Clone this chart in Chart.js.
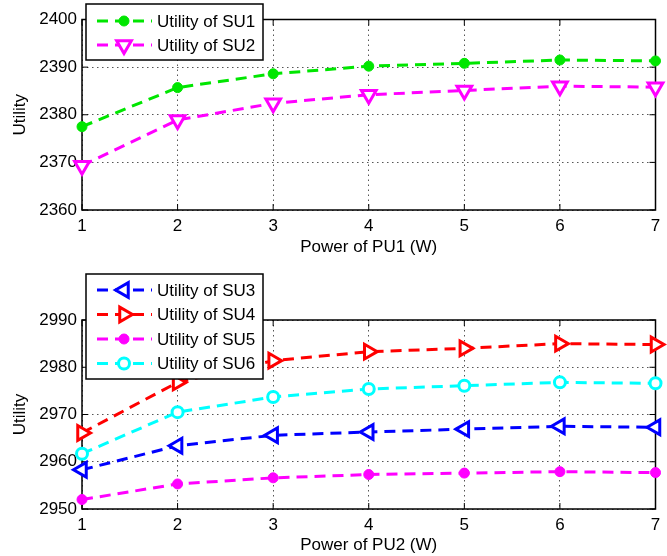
<!DOCTYPE html>
<html>
<head>
<meta charset="utf-8">
<script src="https://cdn.jsdelivr.net/npm/chart.js@4/dist/chart.umd.min.js"></script>
<style>
  body { margin: 0; background: #fff; width: 667px; height: 556px; overflow: hidden; }
  canvas { position: absolute; left: 0; }
  #topChart { top: 0; }
  #bottomChart { top: 270px; }
</style>
</head>
<body>
<canvas id="topChart" width="667" height="270"></canvas>
<canvas id="bottomChart" width="667" height="286"></canvas>
<script>
// x values (W) shared by both panels
const powerLevels = ['1', '2', '3', '4', '5', '6', '7'];

// upper panel: power of PU1
const su1 = [2377.5, 2385.7, 2388.6, 2390.2, 2390.8, 2391.5, 2391.3];
const su2 = [2369.3, 2378.9, 2382.4, 2384.2, 2385.1, 2386.0, 2385.8];
const topTicks = [2360, 2370, 2380, 2390, 2400];

// lower panel: power of PU2
const su3 = [2958.3, 2963.4, 2965.6, 2966.3, 2966.9, 2967.5, 2967.3];
const su4 = [2966.1, 2976.8, 2981.4, 2983.3, 2984.0, 2985.0, 2984.8];
const su5 = [2952.0, 2955.3, 2956.6, 2957.3, 2957.6, 2957.9, 2957.7];
const su6 = [2961.7, 2970.5, 2973.7, 2975.4, 2976.1, 2976.8, 2976.6];
const bottomTicks = [2950, 2960, 2970, 2980, 2990];

const FONT = 'Liberation Sans, Arial, sans-serif';
const FSIZE = 17;

function series(label, data, color, style, rotation, radius, filled) {
  return {
    label: label,
    data: data,
    borderColor: color,
    borderWidth: 3,
    borderDash: [11, 7],
    fill: false,
    tension: 0,
    clip: false,
    pointStyle: style,
    pointRotation: rotation,
    pointRadius: radius,
    pointHoverRadius: radius,
    pointBackgroundColor: filled ? color : '#fff',
    pointBorderColor: color,
    pointBorderWidth: filled ? 1 : 3
  };
}

function drawMarker(ctx, ds, x, y) {
  ctx.save();
  ctx.setLineDash([]);
  ctx.fillStyle = ds.pointBackgroundColor;
  ctx.strokeStyle = ds.pointBorderColor;
  ctx.lineWidth = ds.pointBorderWidth;
  Chart.helpers.drawPoint(ctx, {
    pointStyle: ds.pointStyle,
    rotation: ds.pointRotation,
    radius: ds.pointRadius,
    borderWidth: ds.pointBorderWidth
  }, x, y);
  ctx.restore();
}

// box round the plot, inward ticks, MATLAB-like legend
const matlabFrame = {
  id: 'matlabFrame',
  beforeDatasetsDraw(chart) {
    const { ctx, chartArea: a, scales } = chart;
    ctx.save();
    ctx.setLineDash([]);
    ctx.strokeStyle = '#000';
    ctx.lineWidth = 1;
    scales.x.ticks.forEach((t, i) => {
      const px = scales.x.getPixelForTick(i);
      ctx.beginPath();
      ctx.moveTo(px, a.bottom); ctx.lineTo(px, a.bottom - 6);
      ctx.moveTo(px, a.top); ctx.lineTo(px, a.top + 6);
      ctx.stroke();
    });
    scales.y.ticks.forEach((t, i) => {
      const py = scales.y.getPixelForTick(i);
      ctx.beginPath();
      ctx.moveTo(a.left, py); ctx.lineTo(a.left + 6, py);
      ctx.moveTo(a.right, py); ctx.lineTo(a.right - 6, py);
      ctx.stroke();
    });
    ctx.lineWidth = 1.5;
    ctx.strokeRect(a.left, a.top, a.right - a.left, a.bottom - a.top);
    ctx.restore();
  },
  afterDraw(chart, args, opts) {
    const ctx = chart.ctx;
    const b = opts.box;
    ctx.save();
    ctx.fillStyle = '#fff';
    ctx.fillRect(b.x, b.y, b.w, b.h);
    ctx.strokeStyle = '#000';
    ctx.lineWidth = 1.5;
    ctx.setLineDash([]);
    ctx.strokeRect(b.x, b.y, b.w, b.h);
    ctx.font = FSIZE + 'px ' + FONT;
    ctx.textBaseline = 'middle';
    chart.data.datasets.forEach((ds, i) => {
      const y = b.y + b.first + i * b.rowH;
      ctx.strokeStyle = ds.borderColor;
      ctx.lineWidth = 3;
      ctx.setLineDash([11, 7]);
      ctx.beginPath();
      ctx.moveTo(b.x + 11, y);
      ctx.lineTo(b.x + 66, y);
      ctx.stroke();
      drawMarker(ctx, ds, b.x + 38, y);
      ctx.fillStyle = '#000';
      ctx.fillText(ds.label, b.x + 71, y + 1);
    });
    ctx.restore();
  }
};

function makeOptions(ticks, xTitle, xHeight, titlePadBottom, padTop, legendBox) {
  const font = { size: FSIZE, family: FONT };
  return {
    responsive: false,
    animation: false,
    devicePixelRatio: 1,
    layout: { padding: { left: 0, right: 10, top: padTop, bottom: 0 } },
    plugins: {
      legend: { display: false },
      tooltip: { enabled: false },
      matlabFrame: { box: legendBox }
    },
    scales: {
      x: {
        type: 'category',
        offset: false,
        grid: { color: '#555', lineWidth: 1, drawTicks: false },
        border: { display: false, dash: [1.5, 3.5] },
        ticks: { color: '#000', font: font, padding: 6, maxRotation: 0 },
        title: { display: true, text: xTitle, color: '#000', font: font, padding: { top: 0, bottom: titlePadBottom } },
        afterFit: s => { s.height = xHeight; }
      },
      y: {
        min: ticks[0],
        max: ticks[ticks.length - 1],
        afterBuildTicks: s => { s.ticks = ticks.map(v => ({ value: v })); },
        grid: { color: '#555', lineWidth: 1, drawTicks: false },
        border: { display: false, dash: [1.5, 3.5] },
        ticks: { color: '#000', font: font, padding: 5, callback: v => String(v) },
        title: { display: true, text: 'Utility', color: '#000', font: font, padding: { top: 10, bottom: 0 } },
        afterFit: s => { s.width = 82; }
      }
    }
  };
}

new Chart(document.getElementById('topChart'), {
  type: 'line',
  data: {
    labels: powerLevels,
    datasets: [
      series('Utility of SU1', su1, '#00e600', 'circle', 0, 5, true),
      series('Utility of SU2', su2, '#ff00ff', 'triangle', 180, 8.5, false)
    ]
  },
  options: makeOptions(topTicks, 'Power of PU1 (W)', 60, 12, 19.5,
    { x: 86, y: 4, w: 177, h: 56, first: 17, rowH: 24 }),
  plugins: [matlabFrame]
});

new Chart(document.getElementById('bottomChart'), {
  type: 'line',
  data: {
    labels: powerLevels,
    datasets: [
      series('Utility of SU3', su3, '#0000ff', 'triangle', -90, 8.5, false),
      series('Utility of SU4', su4, '#ff0000', 'triangle', 90, 8.5, false),
      series('Utility of SU5', su5, '#ff00ff', 'circle', 0, 5, true),
      series('Utility of SU6', su6, '#00ffff', 'circle', 0, 5.5, false)
    ]
  },
  options: makeOptions(bottomTicks, 'Power of PU2 (W)', 47, 0, 50,
    { x: 86, y: 4, w: 177, h: 105, first: 16, rowH: 24.5 }),
  plugins: [matlabFrame]
});
</script>
</body>
</html>
